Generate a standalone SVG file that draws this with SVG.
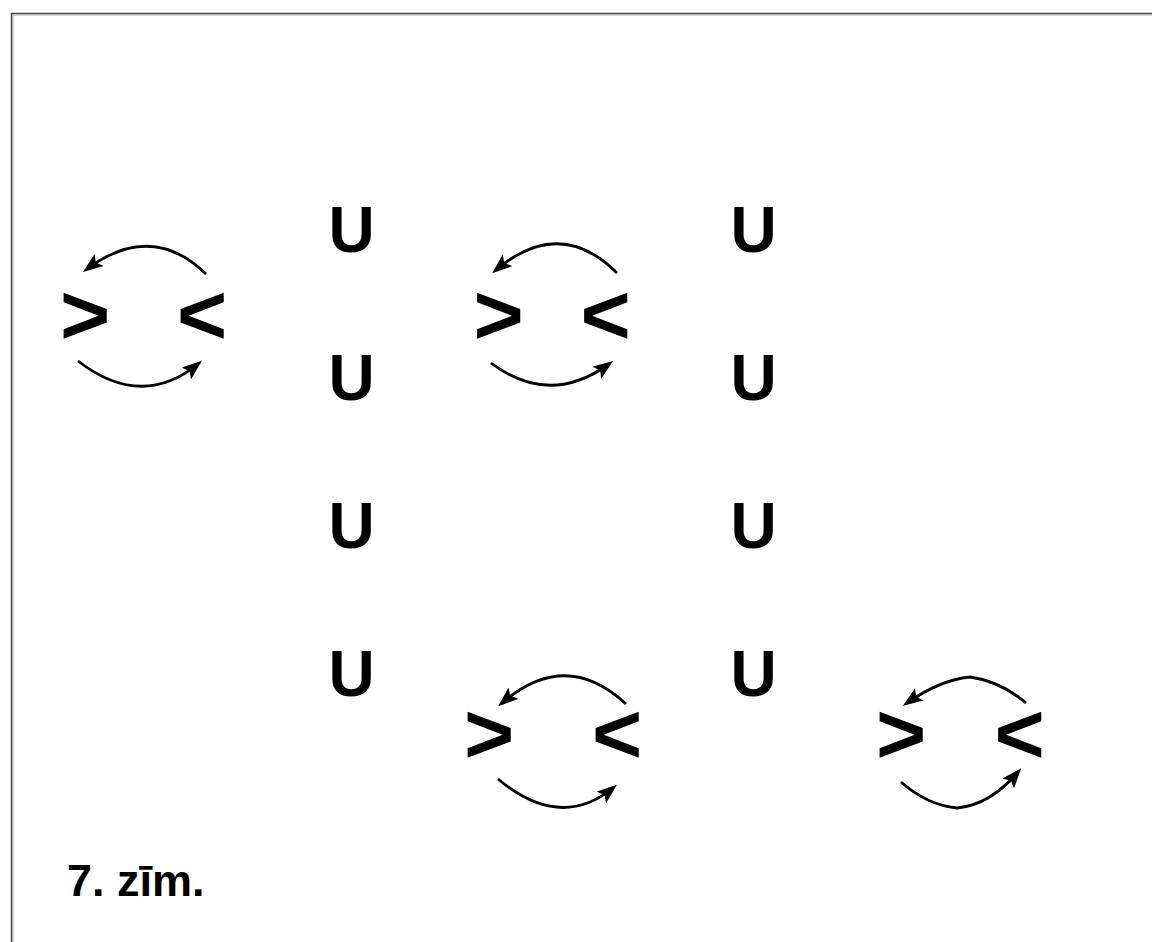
<svg xmlns="http://www.w3.org/2000/svg" width="1152" height="942" viewBox="0 0 1152 942">
<style>
.sym{font-family:"Liberation Sans",Arial,sans-serif;font-weight:bold;font-size:86px;fill:#000;text-anchor:middle}
.u{font-family:"Liberation Sans",Arial,sans-serif;font-weight:bold;font-size:64px;fill:#000;text-anchor:middle}
.cap{font-family:"Liberation Sans",Arial,sans-serif;font-weight:bold;font-size:45px;fill:#000}
.arc{fill:none;stroke:#000;stroke-width:2.8;stroke-linecap:butt}
</style>
<defs>
<marker id="ah" markerUnits="userSpaceOnUse" markerWidth="22" markerHeight="16" refX="15" refY="7.5" orient="auto">
<path d="M0,0 L20,7.5 L0,15 L4,7.5 z" fill="#000"/>
</marker>
</defs>
<rect width="1152" height="942" fill="#fff"/>
<g id="frame">
<path d="M11.5,942 V13.5 H1152" fill="none" stroke="#444" stroke-width="1.5"/>
<path d="M13,942 V15 H1152" fill="none" stroke="#aaa" stroke-width="1"/>
</g>
<g id="u-col1">
<text class="u" x="351.5" y="252">U</text>
<text class="u" x="351.5" y="400">U</text>
<text class="u" x="351.5" y="548">U</text>
<text class="u" x="351.5" y="696">U</text>
</g>
<g id="u-col2">
<text class="u" x="753.5" y="252">U</text>
<text class="u" x="753.5" y="400">U</text>
<text class="u" x="753.5" y="548">U</text>
<text class="u" x="753.5" y="696">U</text>
</g>
<g id="pair1">
<text class="sym" x="85" y="344">&gt;</text>
<text class="sym" x="202" y="344">&lt;</text>
</g>
<g id="pair2">
<text class="sym" x="498.5" y="344">&gt;</text>
<text class="sym" x="605.5" y="344">&lt;</text>
</g>
<g id="pair3">
<text class="sym" x="489" y="763">&gt;</text>
<text class="sym" x="617" y="763">&lt;</text>
</g>
<g id="pair4">
<text class="sym" x="901" y="763">&gt;</text>
<text class="sym" x="1019.5" y="763">&lt;</text>
</g>
<g id="connectors">
<path class="arc" marker-end="url(#ah)" d="M206,274 Q151.5,221 87,269"/>
<path class="arc" marker-end="url(#ah)" d="M78,361 Q141.5,410 198,364"/>
<path class="arc" marker-end="url(#ah)" d="M617,273 Q560,216 496,270"/>
<path class="arc" marker-end="url(#ah)" d="M491,363 Q549.5,407 609,364"/>
<path class="arc" marker-end="url(#ah)" d="M626,704 Q566,648 502,703"/>
<path class="arc" marker-end="url(#ah)" d="M498,779 Q560,831 613,788"/>
<path class="arc" marker-end="url(#ah)" d="M1026,703 Q1000,681 970,677 Q940,680 907,703"/>
<path class="arc" marker-end="url(#ah)" d="M901,782 Q927,805 957,808 Q990,805 1018,772"/>
</g>
<g id="caption">
<text class="cap" x="67" y="896">7. zīm.</text>
</g>
</svg>
